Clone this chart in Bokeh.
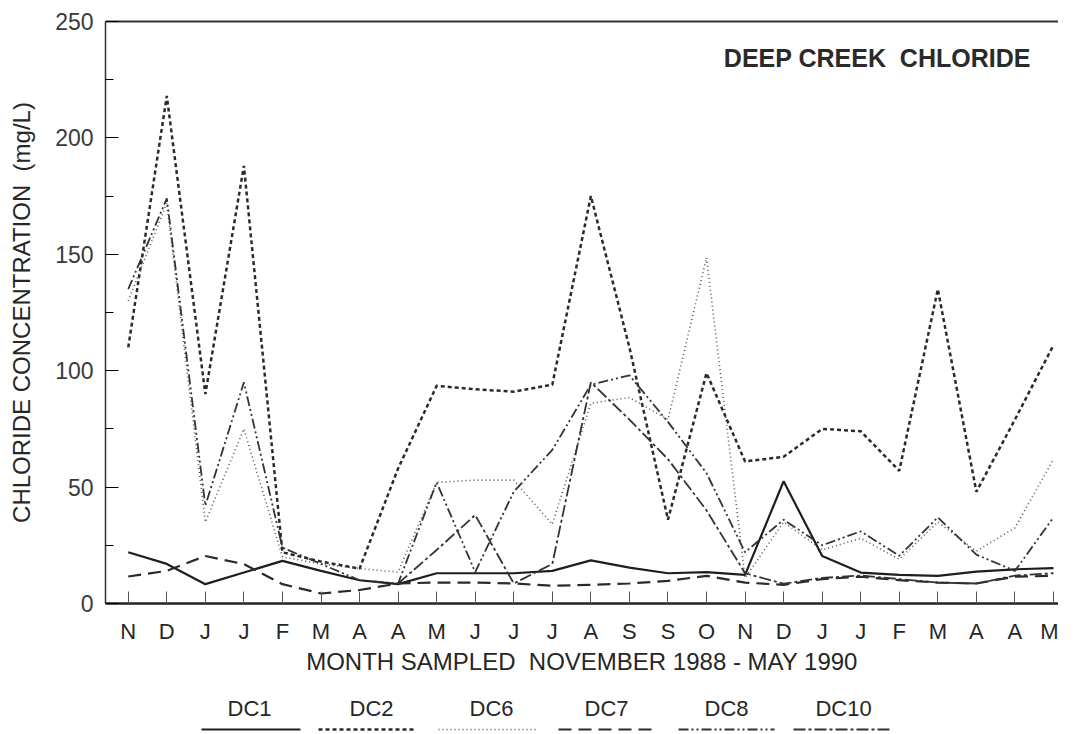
from bokeh.plotting import figure
from bokeh.models import Range1d, FixedTicker, LinearAxis, Label
from bokeh.layouts import column
from bokeh.core.properties import value
from bokeh.embed import file_html
from bokeh.resources import INLINE

nan = float("nan")

months = ["N", "D", "J", "J", "F", "M", "A", "A", "M", "J", "J", "J", "A",
          "S", "S", "O", "N", "D", "J", "J", "F", "M", "A", "A", "M"]
y_ticks = [0, 50, 100, 150, 200, 250]

dc1 = [22, 17, 8.3, 13.3, 18.3, 14, 10, 8.3, 13, 13, 13, 14, 18.5,
       15.4, 13, 13.5, 12.3, 52.5, 20.4, 13.3, 12.3, 11.9, 13.7, 14.7, 15.2]
dc2 = [110, 218, 90, 188, 22, 18, 15, 58, 93.5, 92, 91, 94, 175,
       110, 36, 99, 61, 63, 75, 74, 57, 135, 48, 79, 111]
dc6 = [130, 172, 35, 75, 20, 17, 15, 13.5, 52, 53, 53, 34, 86,
       88.5, 79, 148.5, 11, 35, 23, 28, 19, 35, 22.5, 32.5, 62]
dc7 = [11.6, 14, 20.4, 16.9, 8.3, 4.3, 5.8, 8.6, 9, 9, 8.6, 7.6, 8,
       8.6, 9.7, 11.9, 9, 8, 10.5, 11.5, 10, 9, 8.6, 11.5, 11.9]
dc8 = [135, 174, 42, 95, 24, 17, 10, 8.6, 52, 13.5, 48, 66, 94,
       98, 78, 56, 22, 36, 25, 31, 20.5, 37, 21, 14, 37]
dc10 = [nan, nan, nan, nan, nan, nan, nan, 8.6, 23, 38, 8.6, 17, 95,
        79, 62, 40, 13, 8.5, 11, 12, 10.5, 9, 8.6, 12, 13]

x = list(range(len(months)))
FONT = "Liberation Sans"
INK = "#262626"

p = figure(width=1058, height=682, output_backend="svg", toolbar_location=None,
           x_range=Range1d(-0.59, 24.13), y_range=Range1d(0, 250),
           min_border_left=105, min_border_right=0, min_border_top=21,
           min_border_bottom=79)
p.outline_line_color = None
p.grid.visible = False
p.background_fill_color = "white"

styles = [
    (dc1, dict(line_color="#1e1e1e", line_width=2.2, line_dash="solid")),
    (dc2, dict(line_color="#2a2a2a", line_width=2.5, line_dash="4 3")),
    (dc6, dict(line_color="#555555", line_width=1.6, line_dash="1 3")),
    (dc7, dict(line_color="#2a2a2a", line_width=2.2, line_dash="13 7")),
    (dc8, dict(line_color="#333333", line_width=1.8, line_dash="10 3 2 3 2 3")),
    (dc10, dict(line_color="#333333", line_width=1.8, line_dash="12 3 3 3")),
]
for ys, st in styles:
    p.line(x, ys, **st)

# bottom axis
xa = p.xaxis[0]
xa.ticker = FixedTicker(ticks=x)
xa.major_label_overrides = {i: m for i, m in enumerate(months)}
xa.major_tick_in = 12
xa.major_tick_out = 0
xa.minor_tick_in = 0
xa.minor_tick_out = 0
xa.axis_line_width = 2.5
xa.axis_line_color = "#222"
xa.major_tick_line_color = "#555"
xa.major_label_text_font = FONT
xa.major_label_text_font_size = "22px"
xa.major_label_text_color = INK
xa.major_label_standoff = 15
xa.axis_label = "MONTH SAMPLED\u00a0 NOVEMBER 1988 - MAY 1990"
xa.axis_label_text_font = FONT
xa.axis_label_text_font_size = "24px"
xa.axis_label_text_font_style = "normal"
xa.axis_label_text_color = INK
xa.axis_label_standoff = 1

# left axis
ya = p.yaxis[0]
ya.ticker = FixedTicker(ticks=y_ticks, minor_ticks=[25, 75, 125, 175, 225])
ya.major_tick_in = 13
ya.major_tick_out = 0
ya.minor_tick_in = 8
ya.minor_tick_out = 0
ya.axis_line_width = 1.5
ya.axis_line_color = "#333"
ya.major_label_text_font = FONT
ya.major_label_text_font_size = "23px"
ya.major_label_text_color = "#3a3a3a"
ya.major_label_standoff = 12
ya.axis_label = "CHLORIDE CONCENTRATION\u00a0 (mg/L)"
ya.axis_label_text_font = FONT
ya.axis_label_text_font_size = "24px"
ya.axis_label_text_font_style = "normal"
ya.axis_label_text_color = INK
ya.axis_label_standoff = 17

# top border line
top = LinearAxis(ticker=FixedTicker(ticks=[]), major_tick_in=0, major_tick_out=0,
                 minor_tick_in=0, minor_tick_out=0, axis_line_width=2.2,
                 axis_line_color="#333", major_label_text_font_size="0px")
p.add_layout(top, "above")

p.add_layout(Label(x=15.45, y=234.5, text="DEEP CREEK\u00a0 CHLORIDE",
                   text_font=FONT, text_font_size="25px", text_font_style="bold",
                   text_color="#2a2a2a", text_baseline="middle", text_align="left"))

# legend strip below (frame aligned with main plot: x in page pixels)
names = ["DC1", "DC2", "DC6", "DC7", "DC8", "DC10"]
lf = figure(width=1058, height=50, output_backend="svg", toolbar_location=None,
            x_range=Range1d(105, 1058), y_range=Range1d(0, 50),
            x_axis_type=None, y_axis_type=None, min_border_left=105,
            min_border_right=0, min_border_top=0, min_border_bottom=0)
lf.outline_line_color = None
lf.grid.visible = False
centers = [249, 371, 491, 606, 726, 843]
spans = [(201, 300), (318, 415), (438, 535), (558, 652), (678, 774), (793, 892)]
lf.text(x=centers, y=[24] * 6, text=names, text_align="center",
        text_baseline="middle", text_font=value(FONT), text_font_size="22px",
        text_color=INK)
for (a, b), (_, st) in zip(spans, styles):
    lf.line([a, b], [3, 3], **st)

layout = column(p, lf, spacing=0)
open("out.html", "w").write(file_html(layout, INLINE))
